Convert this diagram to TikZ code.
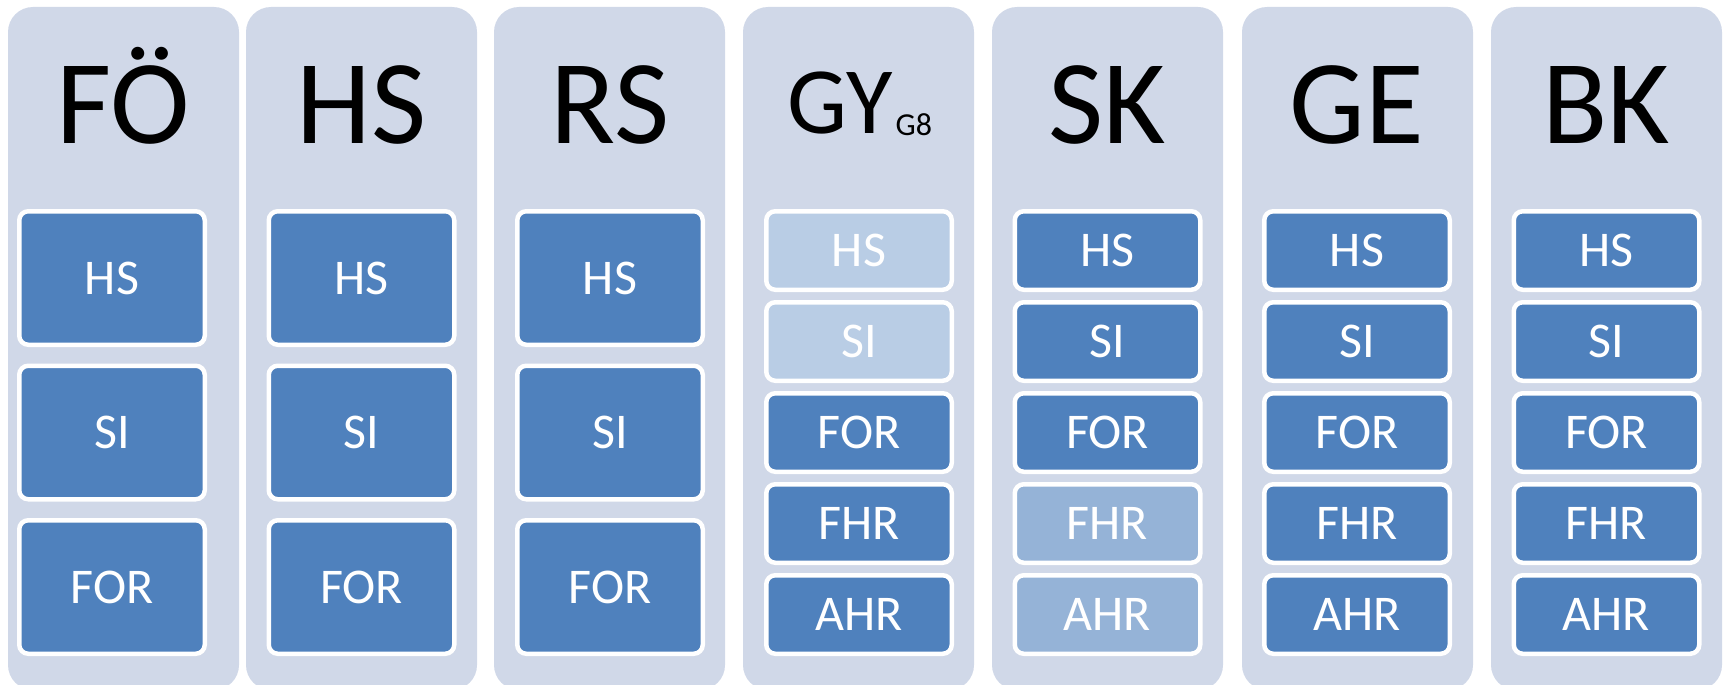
\documentclass[tikz,border=0pt]{standalone}
\usepackage{fontspec}
\setmainfont{Carlito}
\definecolor{colbg}{HTML}{D0D8E8}
\definecolor{boxblue}{HTML}{4F81BD}
\definecolor{boxpale}{HTML}{B9CDE5}
\definecolor{boxmid}{HTML}{95B3D7}
\begin{document}
\begin{tikzpicture}[x=1pt,y=-1pt,
  colshape/.style={fill=colbg, rounded corners=25pt},
  head/.style={anchor=base, inner sep=0pt, text=black, font=\fontsize{120}{120}\selectfont},
  tbox/.style={draw=white, line width=4.5pt, rounded corners=9pt, minimum width=185.5pt,
    text=white, inner sep=0pt, font=\fontsize{50}{50}\selectfont},
  big/.style={minimum height=133.5pt},
  small/.style={minimum height=78.5pt}]
\useasboundingbox (0,0) rectangle (1725,685);
\fill[white] (0,0) rectangle (1725,685);
% columns
\foreach \l in {8,246,494,743,992,1242,1491}
  \fill[colshape] (\l,7) rectangle ({\l+231},690);
% headings
\node[head] (hFO) at (123.5,143) {FÖ};
\node[head] (hHS) at (361.5,143) {HS};
\node[head] (hRS) at (610,143) {RS};
\node[head, font=\fontsize{95}{95}\selectfont] (hGY) at (860,133) {GY\hspace{3pt}\raisebox{-2pt}{\fontsize{32}{32}\selectfont G8}};
\node[head] (hSK) at (1107.5,143) {SK};
\node[head] (hGE) at (1357,143) {GE};
\node[head] (hBK) at (1606.5,143) {BK};
% three-box columns
\foreach \c/\x in {1/112,2/361.5,3/610}
  \foreach \j/\y/\t in {1/278/HS,2/432.5/SI,3/587/FOR}
    \node[tbox, big, fill=boxblue] (b\c-\j) at (\x,\y) {\t};
% five-box columns
\foreach \c/\x/\ca/\cb/\cc/\cd/\ce in {
  4/859/boxpale/boxpale/boxblue/boxblue/boxblue,
  5/1107.5/boxblue/boxblue/boxblue/boxmid/boxmid,
  6/1357/boxblue/boxblue/boxblue/boxblue/boxblue,
  7/1606.5/boxblue/boxblue/boxblue/boxblue/boxblue} {
  \node[tbox, small, fill=\ca] (b\c-1) at (\x,250.5) {HS};
  \node[tbox, small, fill=\cb] (b\c-2) at (\x,341.5) {SI};
  \node[tbox, small, fill=\cc] (b\c-3) at (\x,432.5) {FOR};
  \node[tbox, small, fill=\cd] (b\c-4) at (\x,523.5) {FHR};
  \node[tbox, small, fill=\ce] (b\c-5) at (\x,614.5) {AHR};
}
\end{tikzpicture}
\end{document}
